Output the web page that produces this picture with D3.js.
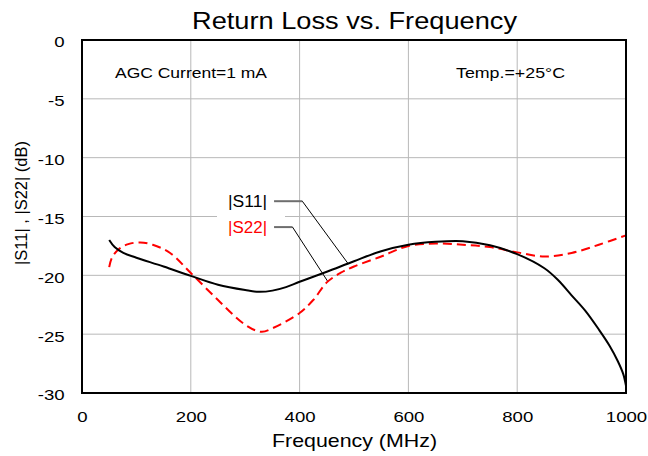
<!DOCTYPE html>
<html>
<head>
<meta charset="utf-8">
<script src="https://cdn.jsdelivr.net/npm/d3@7"></script>
<style>
  html, body { margin: 0; padding: 0; background: #fff; }
  svg { display: block; }
  svg text { font-family: "Liberation Sans", Arial, sans-serif; }
</style>
</head>
<body>
<svg id="chart" width="648" height="456"></svg>
<script>
// ---- data ----
const xTicks = [0, 200, 400, 600, 800, 1000];
const yTicks = [0, -5, -10, -15, -20, -25, -30];

const s11Freq = [50, 60, 76, 100, 150, 200, 250, 300, 325, 350, 375, 400, 450, 500, 550, 600, 650, 700, 750, 800, 850, 875, 900, 925, 950, 970, 985, 995, 1000];
const s11Val  = [-17.0, -17.6, -18.1, -18.5, -19.25, -20.05, -20.8, -21.25, -21.4, -21.3, -21.0, -20.55, -19.7, -18.8, -17.95, -17.4, -17.15, -17.1, -17.45, -18.2, -19.4, -20.4, -21.7, -23.0, -24.6, -26.0, -27.3, -28.4, -29.4];

const s22Freq = [50, 55, 67, 85, 107, 130, 162, 200, 250, 300, 330, 350, 400, 425, 450, 475, 500, 550, 600, 650, 700, 750, 800, 850, 900, 950, 1000];
const s22Val  = [-19.3, -18.5, -17.8, -17.35, -17.2, -17.4, -18.1, -19.8, -22.1, -24.2, -24.8, -24.5, -23.2, -22.1, -20.6, -19.8, -19.25, -18.4, -17.5, -17.3, -17.4, -17.6, -18.05, -18.4, -18.1, -17.4, -16.6];

const seriesNames = ["|S11|", "|S22|"];
// label anchor (freq, dB), elbow (freq), pointer target freq on curve
const labelAnchor = [[342, -13.7], [342, -15.9]];
const labelElbow = [405, 387];
const labelTarget = [489, 452];

const titleText = "Return Loss vs. Frequency";
const xTitle = "Frequency (MHz)";
const yTitle = "|S11| , |S22| (dB)";
const noteLeft = "AGC Current=1 mA";
const noteRight = "Temp.=+25°C";

// ---- layout ----
const L = 82, R = 626, T = 40, B = 393;
const svg = d3.select("#chart");
const x = d3.scaleLinear().domain([0, 1000]).range([L, R]);
const y = d3.scaleLinear().domain([-30, 0]).range([B, T]);
const fmt = d => String(d);

// grid
const grid = svg.append("g");
grid.selectAll("line.v").data(xTicks.slice(1, -1)).join("line")
  .attr("x1", d => x(d)).attr("x2", d => x(d)).attr("y1", T).attr("y2", B)
  .attr("stroke", "#b8b8b8").attr("stroke-width", 1);
grid.selectAll("line.h").data(yTicks.slice(1, -1)).join("line")
  .attr("x1", L).attr("x2", R).attr("y1", d => y(d)).attr("y2", d => y(d))
  .attr("stroke", "#b8b8b8").attr("stroke-width", 1);

// axes tick labels
const sx = 1.2;
const xa = svg.append("g").attr("transform", `translate(0,${B})`)
  .call(d3.axisBottom(x).tickValues(xTicks).tickSize(0).tickFormat(fmt));
xa.select(".domain").remove();
xa.attr("font-family", null).attr("font-size", null);
xa.selectAll("text").attr("y", 29).attr("dy", null)
  .style("font-size", "15.5px").attr("fill", "#000").attr("transform", `scale(${sx},1)`);

const ya = svg.append("g").attr("transform", `translate(${L},0)`)
  .call(d3.axisLeft(y).tickValues(yTicks).tickSize(0).tickFormat(fmt));
ya.select(".domain").remove();
ya.attr("font-family", null).attr("font-size", null);
ya.selectAll("text").attr("x", -14.5).attr("dy", "0.45em")
  .style("font-size", "15.5px").attr("fill", "#000").attr("transform", `scale(${sx},1)`);

// notes
svg.append("text").attr("x", 115).attr("y", 78).style("font-size", "14.5px")
  .attr("textLength", 152).attr("lengthAdjust", "spacingAndGlyphs").text(noteLeft);
svg.append("text").attr("x", 456).attr("y", 78).style("font-size", "14.5px")
  .attr("textLength", 109).attr("lengthAdjust", "spacingAndGlyphs").text(noteRight);

// label box (white background)
svg.append("rect").attr("x", 217).attr("y", y(labelAnchor[0][1]) - 13)
  .attr("width", 68).attr("height", y(labelAnchor[1][1]) - y(labelAnchor[0][1]) + 26)
  .attr("fill", "#fff");

// leader lines + labels
const colors = ["#000000", "#ff0000"];
seriesNames.forEach((name, i) => {
  const fa = labelAnchor[i][0], va = labelAnchor[i][1];
  const target = labelTarget[i];
  const fArr = i === 0 ? s11Freq : s22Freq;
  const vArr = i === 0 ? s11Val : s22Val;
  const tv = d3.scaleLinear().domain(fArr).range(vArr)(target);
  svg.append("line").attr("x1", x(fa) + 6).attr("x2", x(labelElbow[i]))
    .attr("y1", y(va)).attr("y2", y(va))
    .attr("stroke", "#6e6e6e").attr("stroke-width", 2);
  svg.append("line").attr("x1", x(labelElbow[i])).attr("y1", y(va))
    .attr("x2", x(target)).attr("y2", y(tv))
    .attr("stroke", "#000").attr("stroke-width", 1);
  svg.append("text").attr("x", x(fa) - 1).attr("y", y(va) + 6)
    .attr("text-anchor", "end").style("font-size", "16px")
    .attr("textLength", 39).attr("lengthAdjust", "spacingAndGlyphs")
    .attr("fill", colors[i]).text(name);
});

// curves
const line = d3.line().curve(d3.curveCatmullRom.alpha(0.5)).x(d => x(d[0])).y(d => y(d[1]));
const s22 = s22Freq.map((f, i) => [f, s22Val[i]]);
const s11 = s11Freq.map((f, i) => [f, s11Val[i]]);
svg.append("path").datum(s22).attr("d", line).attr("fill", "none")
  .attr("stroke", "#ff0000").attr("stroke-width", 2).attr("stroke-dasharray", "9,5");
svg.append("path").datum(s11).attr("d", line).attr("fill", "none")
  .attr("stroke", "#000").attr("stroke-width", 2);

// frame
svg.append("rect").attr("x", L).attr("y", T).attr("width", R - L).attr("height", B - T)
  .attr("fill", "none").attr("stroke", "#000").attr("stroke-width", 2);

// titles
svg.append("text").attr("x", 192).attr("y", 29).style("font-size", "24px")
  .attr("textLength", 325).attr("lengthAdjust", "spacingAndGlyphs").text(titleText);
svg.append("text").attr("x", 272).attr("y", 447).style("font-size", "18.5px")
  .attr("textLength", 165).attr("lengthAdjust", "spacingAndGlyphs").text(xTitle);
svg.append("text").attr("transform", "translate(27,203) rotate(-90)")
  .attr("text-anchor", "middle").style("font-size", "17px")
  .attr("textLength", 124).attr("lengthAdjust", "spacingAndGlyphs").text(yTitle);
</script>
</body>
</html>
